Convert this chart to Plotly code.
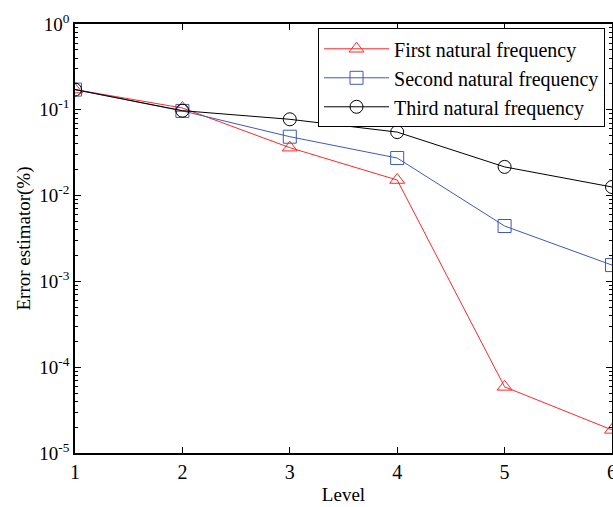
import plotly.graph_objects as go

levels = [1, 2, 3, 4, 5, 6]
first_freq = [0.172, 0.105, 0.0362, 0.0152, 5.9e-5, 1.86e-5]
second_freq = [0.172, 0.097, 0.0486, 0.0274, 0.00442, 0.00155]
third_freq = [0.172, 0.0977, 0.0775, 0.055, 0.0216, 0.0126]

series_names = ["First natural frequency", "Second natural frequency", "Third natural frequency"]
y_tick_vals = [1e-5, 1e-4, 1e-3, 1e-2, 1e-1, 1e0]
y_tick_text = ["10<sup>-5</sup>", "10<sup>-4</sup>", "10<sup>-3</sup>", "10<sup>-2</sup>", "10<sup>-1</sup>", "10<sup>0</sup>"]
x_tick_vals = [1, 2, 3, 4, 5, 6]
x_tick_text = ["1", "2", "3", "4", "5", "6"]

minor_vals = [k * 10.0 ** e for e in range(-5, 0) for k in range(2, 10)]

FONT = "Liberation Serif, Times New Roman, serif"

fig = go.Figure()
styles = [
    ("rgb(255,40,40)", "triangle-up-open"),
    ("rgb(60,90,185)", "square-open"),
    ("rgb(0,0,0)", "circle-open"),
]
for name, vals, (col, sym) in zip(series_names, [first_freq, second_freq, third_freq], styles):
    fig.add_trace(go.Scatter(
        x=levels, y=vals, name=name, mode="lines+markers",
        line=dict(color=col, width=1),
        marker=dict(symbol=sym, size=13, color=col, line=dict(width=1, color=col)),
    ))

# last x tick label (partly outside the drawing area, as in the reference)
fig.add_annotation(
    x=x_tick_vals[-1], y=0, xref="x", yref="paper", text=x_tick_text[-1],
    showarrow=False, yanchor="top", xanchor="center", yshift=-6,
    font=dict(family=FONT, size=20, color="black"),
)

fig.update_layout(
    width=613, height=507,
    margin=dict(l=75, r=1, t=24, b=54, autoexpand=False),
    paper_bgcolor="white", plot_bgcolor="white",
    font=dict(family=FONT, size=19, color="black"),
    showlegend=True,
    legend=dict(
        x=0.987, y=0.99, xanchor="right", yanchor="top",
        bordercolor="black", borderwidth=1, bgcolor="white",
        font=dict(family=FONT, size=20, color="black"),
        tracegroupgap=0, itemwidth=65,
    ),
)
fig.update_xaxes(
    range=[1, 6], tickmode="array", tickvals=x_tick_vals[:-1], ticktext=x_tick_text[:-1],
    ticks="inside", ticklen=6, tickcolor="black",
    showline=True, linecolor="black", linewidth=1.5, mirror="ticks",
    showgrid=False, zeroline=False, automargin=False,
    title=dict(text="Level", font=dict(family=FONT, size=19), standoff=6),
    tickfont=dict(family=FONT, size=20),
)
fig.update_yaxes(
    type="log", range=[-5, 0], tickmode="array", tickvals=y_tick_vals, ticktext=y_tick_text,
    ticks="inside", ticklen=6, tickcolor="black",
    minor=dict(tickmode="array", tickvals=minor_vals, ticks="inside", ticklen=3, tickcolor="black", showgrid=False),
    showline=True, linecolor="black", linewidth=1.5, mirror="ticks",
    showgrid=False, zeroline=False, automargin=False,
    title=dict(text="Error estimator(%)", font=dict(family=FONT, size=19), standoff=4),
    tickfont=dict(family=FONT, size=19),
)

fig.write_html(
    "out.html",
    config={"displayModeBar": False},
    post_script="document.body.style.margin='0';document.body.style.overflow='hidden';",
)
